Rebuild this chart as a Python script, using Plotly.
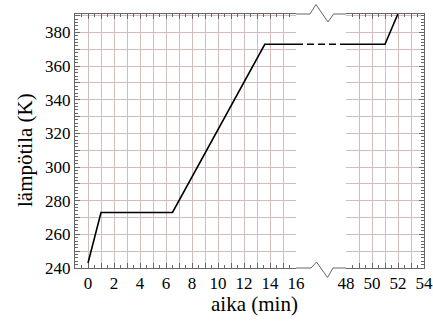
import plotly.graph_objects as go

# ---- data ----
left_t = [0, 1, 6.5, 13.6, 16]
left_T = [243, 273, 273, 373, 373]
gap_t = [16, 48]
gap_T = [373, 373]
right_t = [48, 51, 52.1]
right_T = [373, 373, 393]

x_left_vals = list(range(-1, 17))
x_left_text = [str(v) if v >= 0 and v % 2 == 0 else "" for v in x_left_vals]
x_right_vals = list(range(48, 55))
x_right_text = [str(v) if v % 2 == 0 else "" for v in x_right_vals]
y_vals = list(range(240, 391, 10))
y_text = [str(v) if v % 20 == 0 and v <= 380 else "" for v in y_vals]

# ---- layout geometry ----
W, H = 433, 321
ml, mr, mt, mb = 75, 9, 14, 53
pw = W - ml - mr
ph = H - mt - mb
def px(x):
    return (x - ml) / pw
def py(y):
    return (H - mb - y) / ph

d_left = [0, px(296)]
d_right = [px(346), 1]
YR = [240, 391]

FAM = "Liberation Serif, DejaVu Serif, serif"
axis_col = "#666666"
grid_col = "#d3bcbc"
font = dict(family=FAM, size=17, color="black")

fig = go.Figure()
fig.add_trace(go.Scatter(x=left_t, y=left_T, mode="lines", xaxis="x", yaxis="y",
                         line=dict(color="black", width=1.6), showlegend=False))
fig.add_trace(go.Scatter(x=gap_t, y=gap_T, mode="lines", xaxis="x3", yaxis="y3",
                         line=dict(color="black", width=1.6, dash="7px,4px"), showlegend=False))
fig.add_trace(go.Scatter(x=right_t, y=right_T, mode="lines", xaxis="x2", yaxis="y2",
                         line=dict(color="black", width=1.6), showlegend=False))

common_x = dict(showline=True, linecolor=axis_col, linewidth=1, ticks="inside", ticklen=5,
                tickcolor=axis_col, mirror="ticks", showgrid=True, gridcolor=grid_col,
                gridwidth=1, zeroline=False, tickfont=font, automargin=False,
                minor=dict(dtick=0.5, ticks="inside", ticklen=3, tickcolor=axis_col, showgrid=False))
common_y = dict(range=YR, showline=True, linecolor=axis_col, linewidth=1, ticks="inside",
                ticklen=5, tickcolor=axis_col, showgrid=True, gridcolor=grid_col, gridwidth=1,
                zeroline=False, tickfont=font, tickmode="array", tickvals=y_vals, ticktext=y_text,
                automargin=False,
                minor=dict(dtick=2, ticks="inside", ticklen=3, tickcolor=axis_col, showgrid=False))

fig.update_layout(
    width=W, height=H,
    margin=dict(l=ml, r=mr, t=mt, b=mb, autoexpand=False),
    paper_bgcolor="white", plot_bgcolor="white",
    font=font,
    xaxis=dict(domain=d_left, range=[-1, 16], anchor="y", tickmode="array",
               tickvals=x_left_vals, ticktext=x_left_text, **common_x),
    xaxis2=dict(domain=d_right, range=[48, 54], anchor="y2", tickmode="array",
                tickvals=x_right_vals, ticktext=x_right_text, **common_x),
    xaxis3=dict(domain=[px(296), px(346)], range=[16, 48], anchor="y3", visible=False),
    yaxis=dict(anchor="x", side="left", **common_y),
    yaxis2=dict(anchor="x2", side="right", showticklabels=False, **common_y),
    yaxis3=dict(anchor="x3", range=YR, visible=False),
)

# axis titles
fig.add_annotation(text="aika (min)", xref="paper", yref="paper", x=px(254), y=py(304),
                   xanchor="center", yanchor="middle",
                   showarrow=False, font=dict(family=FAM, size=21, color="black"))
fig.add_annotation(text="lämpötila (K)", xref="paper", yref="paper", x=px(25), y=py(150),
                   xanchor="center", yanchor="middle",
                   textangle=-90, showarrow=False, font=dict(family=FAM, size=21, color="black"))

# axis break marks (decorative frame in the gap)
def path(pts):
    return "M " + " L ".join(f"{px(a):.5f},{py(b):.5f}" for a, b in pts)
top = [(296, 14), (310, 14), (316, 4.5), (328, 22), (333.5, 14), (346, 14)]
bot = [(296, 268), (311, 268), (316.5, 262), (327.5, 277.5), (333, 268), (346, 268)]
for pts in (top, bot):
    fig.add_shape(type="path", path=path(pts), xref="paper", yref="paper",
                  line=dict(color=axis_col, width=1))

post = (
    "document.body.style.margin='0px';"
    "var gd=document.getElementsByClassName('plotly-graph-div')[0];"
    "if(document.fonts&&document.fonts.ready){document.fonts.ready.then(function(){Plotly.redraw(gd);});}"
)
fig.write_html("out.html", config={"displayModeBar": False}, post_script=post)
